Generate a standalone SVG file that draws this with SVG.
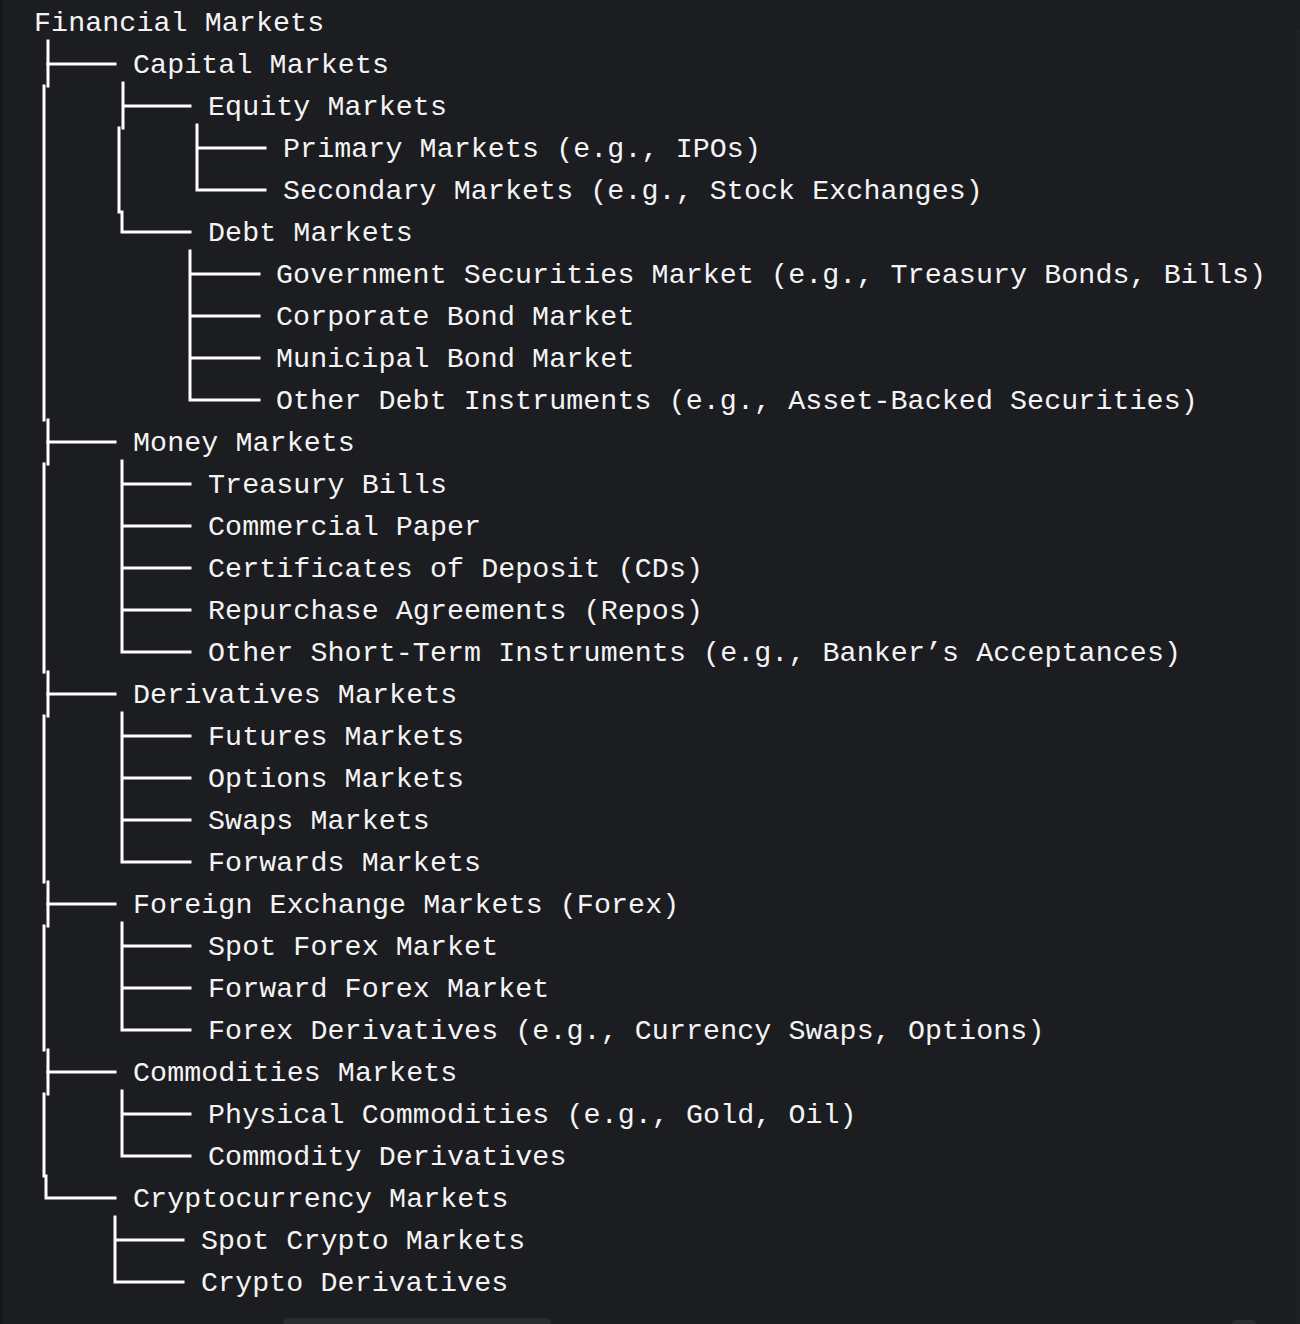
<svg xmlns="http://www.w3.org/2000/svg" width="1300" height="1324" viewBox="0 0 1300 1324">
<style>
.t{font-family:"Liberation Mono","DejaVu Sans Mono",monospace;font-size:28.3px;letter-spacing:0.09px;fill:#f4f4f4;white-space:pre}
.c{fill:none;stroke:#ffffff;stroke-width:3;stroke-linecap:square}
</style>
<rect x="0" y="0" width="1300" height="1324" fill="#1c1d21"/>
<rect x="0" y="0" width="3" height="1324" fill="#17181b"/>
<rect x="1296" y="30" width="4" height="1294" fill="#202125"/>
<rect x="283" y="1318" width="268" height="12" rx="6" fill="#2b2c30"/>
<rect x="1232" y="1320" width="24" height="8" rx="4" fill="#2b2c30"/>
<g id="connectors">
<path class="c" d="M48,41 V86 M44,86 V420 M48,420 V464 M44,464 V672 M48,672 V716 M44,716 V882 M48,882 V926 M44,926 V1050 M48,1050 V1094 M44,1094 V1176 M46,1176 V1198 H115"/>
<path class="c" d="M48,64 H115 M48,442 H115 M48,694 H115 M48,904 H115 M48,1072 H115"/>
<path class="c" d="M123,83 V128 M119,128 V212 M122,212 V232 H190 M123,106 H190"/>
<path class="c" d="M197,125 V190 H265 M197,148 H265"/>
<path class="c" d="M190,251 V400 H259 M190,274 H259 M190,316 H259 M190,358 H259"/>
<path class="c" d="M122,461 V652 H190 M122,484 H190 M122,526 H190 M122,568 H190 M122,610 H190"/>
<path class="c" d="M122,713 V862 H190 M122,736 H190 M122,778 H190 M122,820 H190"/>
<path class="c" d="M122,923 V1030 H190 M122,946 H190 M122,988 H190"/>
<path class="c" d="M122,1091 V1156 H190 M122,1114 H190"/>
<path class="c" d="M115,1217 V1282 H183 M115,1240 H183"/>
</g>
<g id="n-root"><text class="t" x="34" y="31">Financial Markets</text></g>
<g id="n-capital"><text class="t" x="133" y="73">Capital Markets</text></g>
<g id="n-equity"><text class="t" x="208" y="115">Equity Markets</text></g>
<g id="n-primary"><text class="t" x="283" y="157">Primary Markets (e.g., IPOs)</text></g>
<g id="n-secondary"><text class="t" x="283" y="199">Secondary Markets (e.g., Stock Exchanges)</text></g>
<g id="n-debt"><text class="t" x="208" y="241">Debt Markets</text></g>
<g id="n-gov"><text class="t" x="276" y="283">Government Securities Market (e.g., Treasury Bonds, Bills)</text></g>
<g id="n-corp"><text class="t" x="276" y="325">Corporate Bond Market</text></g>
<g id="n-muni"><text class="t" x="276" y="367">Municipal Bond Market</text></g>
<g id="n-otherdebt"><text class="t" x="276" y="409">Other Debt Instruments (e.g., Asset-Backed Securities)</text></g>
<g id="n-money"><text class="t" x="133" y="451">Money Markets</text></g>
<g id="n-tbills"><text class="t" x="208" y="493">Treasury Bills</text></g>
<g id="n-cp"><text class="t" x="208" y="535">Commercial Paper</text></g>
<g id="n-cds"><text class="t" x="208" y="577">Certificates of Deposit (CDs)</text></g>
<g id="n-repos"><text class="t" x="208" y="619">Repurchase Agreements (Repos)</text></g>
<g id="n-othershort"><text class="t" x="208" y="661">Other Short-Term Instruments (e.g., Banker’s Acceptances)</text></g>
<g id="n-deriv"><text class="t" x="133" y="703">Derivatives Markets</text></g>
<g id="n-futures"><text class="t" x="208" y="745">Futures Markets</text></g>
<g id="n-options"><text class="t" x="208" y="787">Options Markets</text></g>
<g id="n-swaps"><text class="t" x="208" y="829">Swaps Markets</text></g>
<g id="n-forwards"><text class="t" x="208" y="871">Forwards Markets</text></g>
<g id="n-forex"><text class="t" x="133" y="913">Foreign Exchange Markets (Forex)</text></g>
<g id="n-spotfx"><text class="t" x="208" y="955">Spot Forex Market</text></g>
<g id="n-fwdfx"><text class="t" x="208" y="997">Forward Forex Market</text></g>
<g id="n-fxderiv"><text class="t" x="208" y="1039">Forex Derivatives (e.g., Currency Swaps, Options)</text></g>
<g id="n-commod"><text class="t" x="133" y="1081">Commodities Markets</text></g>
<g id="n-physical"><text class="t" x="208" y="1123">Physical Commodities (e.g., Gold, Oil)</text></g>
<g id="n-comderiv"><text class="t" x="208" y="1165">Commodity Derivatives</text></g>
<g id="n-crypto"><text class="t" x="133" y="1207">Cryptocurrency Markets</text></g>
<g id="n-spotcrypto"><text class="t" x="201" y="1249">Spot Crypto Markets</text></g>
<g id="n-cryptoderiv"><text class="t" x="201" y="1291">Crypto Derivatives</text></g>
</svg>
